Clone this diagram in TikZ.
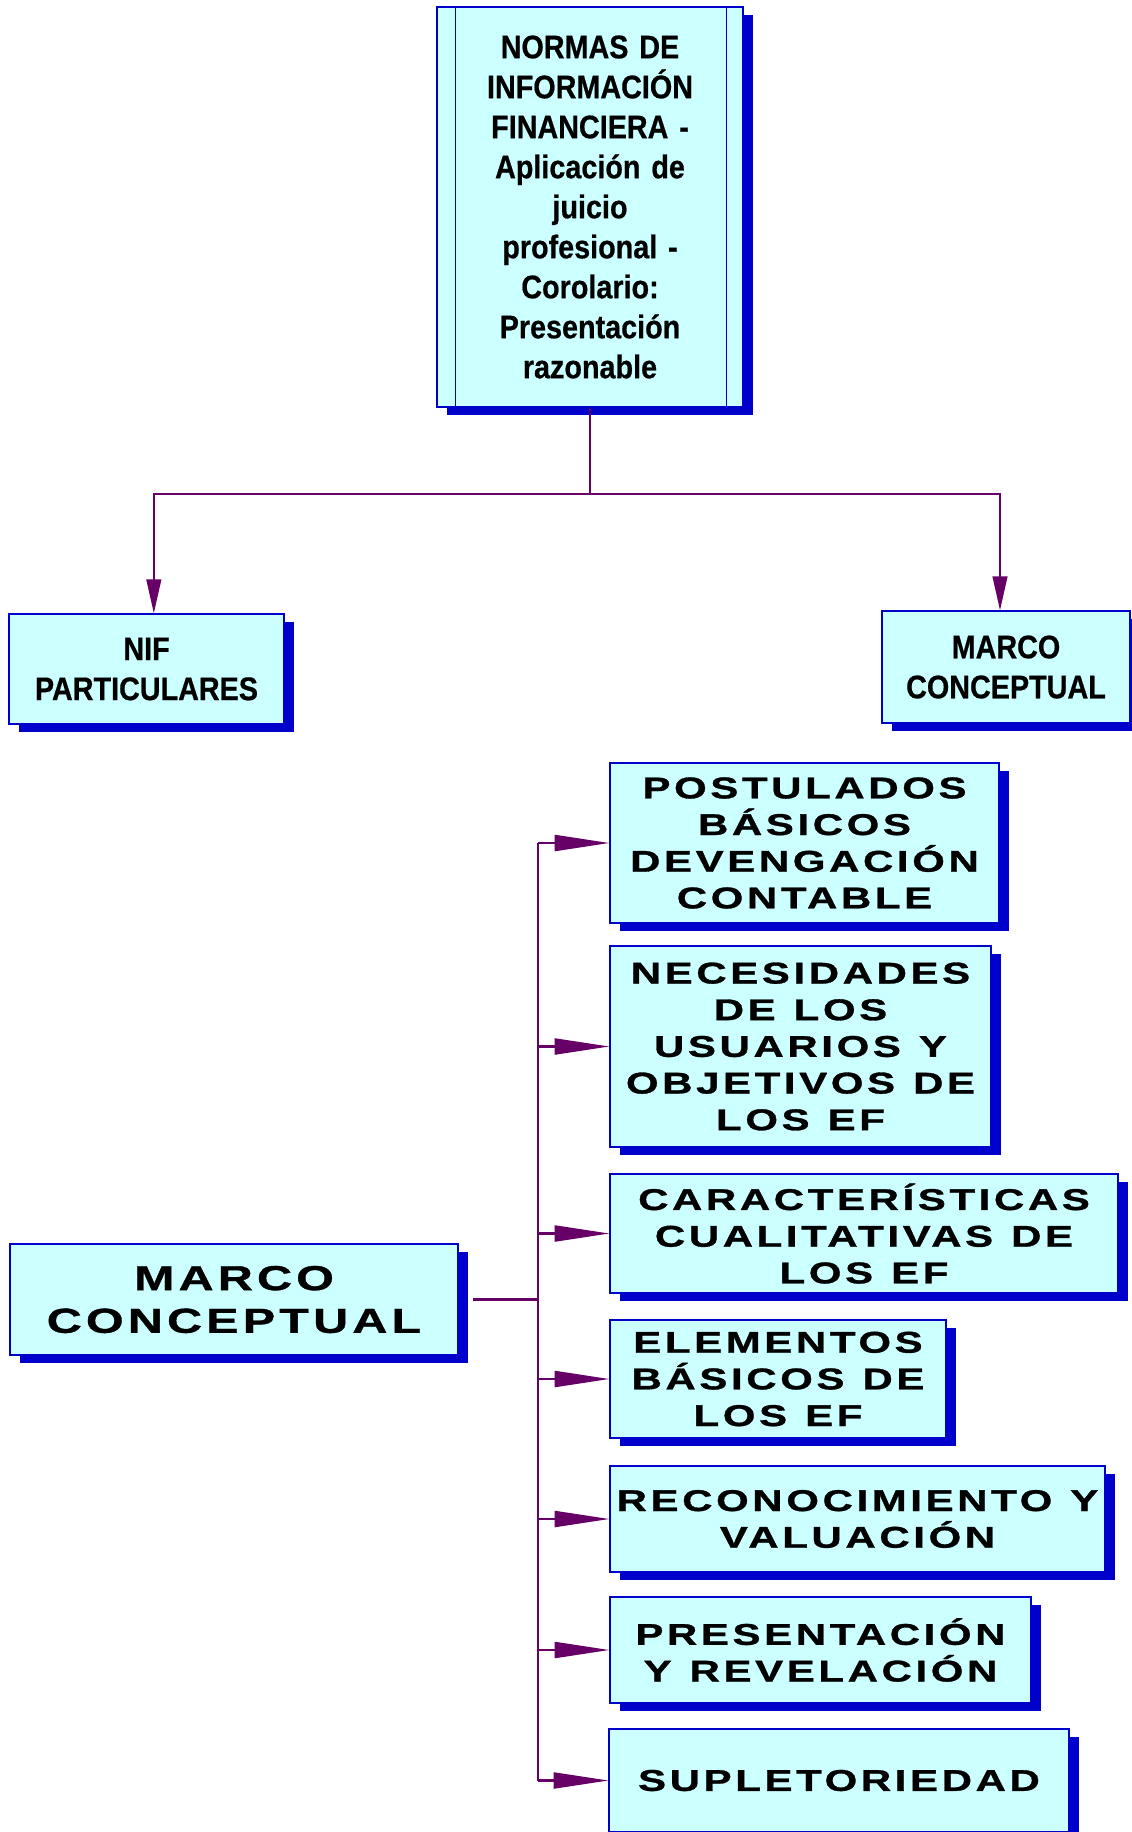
\documentclass[tikz,border=0pt]{standalone}
\usepackage{fontspec}
\setmainfont{Liberation Sans}
\newfontfamily\narrowfont[FakeStretch=0.88,FakeBold=0.6]{Liberation Sans}
\newfontfamily\widefont[FakeStretch=1.4,LetterSpace=12,FakeBold=1]{Liberation Sans}
\usetikzlibrary{shadows, arrows.meta, calc}
\definecolor{boxfill}{HTML}{CCFFFF}
\definecolor{boxline}{HTML}{0000CC}
\definecolor{linkcol}{HTML}{660066}
\tikzstyle{box}    = [draw=boxline, line width=1pt, fill=boxfill, inner sep=0pt, align=center, drop shadow={shadow xshift=7.5pt, shadow yshift=-6pt, fill=boxline, opacity=1}]
\tikzstyle{narrowbox} = [box, font=\narrowfont\bfseries\fontsize{24.5}{30}\selectfont]
\tikzstyle{widebox}   = [box, font=\widefont\bfseries\fontsize{22.5}{27.5}\selectfont, execute at begin node={\spaceskip=0.6em\relax}]
\tikzstyle{edge}   = [draw=linkcol, line width=1.6pt]
\tikzstyle{arrowd} = [edge, -{Triangle[length=25.5pt, width=11pt]}]
\tikzstyle{arrowr} = [edge, -{Triangle[length=41pt, width=12pt]}]

\begin{document}
\begin{tikzpicture}[x=0.75pt, y=-0.75pt]
\useasboundingbox (0,0) rectangle (1132,1832);

% normas
\node[narrowbox, text width=229.5pt, minimum height=300pt] (top) at (590,207) {NORMAS DE\\INFORMACIÓN\\FINANCIERA -\\Aplicación de\\juicio\\profesional -\\Corolario:\\Presentación\\razonable};
\draw[boxline, line width=1pt] ([xshift=14.25pt]top.north west) -- ([xshift=14.25pt]top.south west);
\draw[boxline, line width=1pt] ([xshift=-12.75pt]top.north east) -- ([xshift=-12.75pt]top.south east);

\node[narrowbox, text width=206.25pt, minimum height=82.5pt] (nif) at (146.5,669) {NIF\\PARTICULARES};
\node[narrowbox, text width=186pt, minimum height=84pt] (mcr) at (1006,667) {MARCO\\CONCEPTUAL};

% marco conceptual
\node[box, font=\widefont\bfseries\fontsize{26}{32}\selectfont, text width=336pt, minimum height=83.25pt] (mc) at (234,1299.5) {MARCO\\CONCEPTUAL};

\node[widebox, text width=291.75pt, minimum height=120pt] (b1) at (804.5,843) {POSTULADOS\\BÁSICOS\\DEVENGACIÓN\\CONTABLE};
\node[widebox, text width=285.75pt, minimum height=150.75pt] (b2) at (800.5,1046.5) {NECESIDADES\\DE LOS\\USUARIOS Y\\OBJETIVOS DE\\LOS EF};
\node[widebox, text width=381pt, minimum height=89.25pt] (b3) at (864,1233.5) {CARACTERÍSTICAS\\CUALITATIVAS DE\\LOS EF};
\node[widebox, text width=252pt, minimum height=88.5pt] (b4) at (778,1379) {ELEMENTOS\\BÁSICOS DE\\LOS EF};
\node[widebox, text width=371.25pt, minimum height=79.5pt] (b5) at (857.5,1519) {RECONOCIMIENTO Y\\VALUACIÓN};
\node[widebox, text width=315.75pt, minimum height=79.5pt] (b6) at (820.5,1650) {PRESENTACIÓN\\Y REVELACIÓN};
\node[widebox, text width=345pt, minimum height=77.25pt] (b7) at (839,1780.5) {SUPLETORIEDAD};

% conectores arriba
\coordinate (tj) at ($(top.south)+(0,86)$);
\draw[edge] (top.south) -- (tj);
\draw[arrowd] (tj) -| ([xshift=5.5pt]nif.north);
\draw[arrowd] (tj) -| ([xshift=-4.5pt]mcr.north);

% conectores abajo
\coordinate (bus) at (538,0);
\draw[edge] ([xshift=11pt]mc.east) -- (mc.east -| bus);
\draw[edge] (b1.west -| bus) -- (b7.west -| bus);
\foreach \b in {b1,b2,b3,b4,b5,b6,b7}
  \draw[arrowr] (\b.west -| bus) -- (\b.west);

\end{tikzpicture}
\end{document}
